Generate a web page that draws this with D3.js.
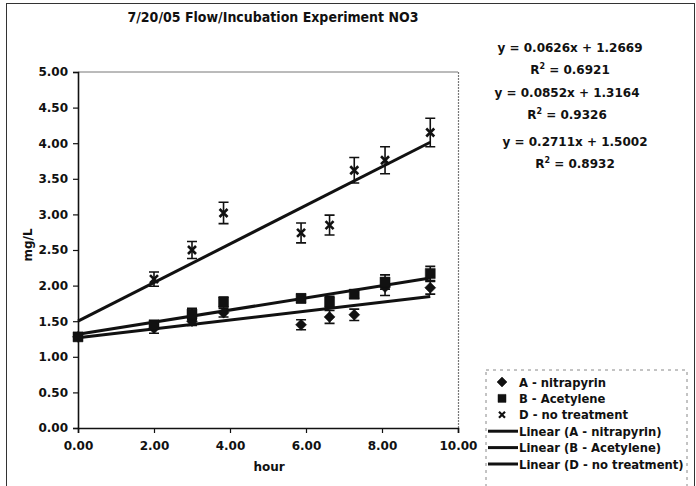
<!DOCTYPE html>
<html>
<head>
<meta charset="utf-8">
<script src="https://cdn.jsdelivr.net/npm/d3@7"></script>
<style>
  body { margin: 0; background: #fff; }
  svg { display: block; font-family: 'DejaVu Sans', Verdana, sans-serif; }
</style>
</head>
<body>
<div id="chart"></div>
<script>
// sample times (hour)
const hours = [0, 2.0, 3.0, 3.83, 5.87, 6.62, 7.27, 8.08, 9.27]

// NO3 mg/L per treatment, with error bar half-heights
const valsA = [1.28, 1.40, 1.50, 1.62, 1.45, 1.56, 1.59, 1.98, 1.97]
const errA = [0.04, 0.07, 0.06, 0.06, 0.07, 0.09, 0.08, 0.12, 0.09]
const valsB = [1.28, 1.45, 1.60, 1.77, 1.82, 1.77, 1.88, 2.05, 2.17]
const errB = [0.04, 0.05, 0.08, 0.07, 0.06, 0.08, 0.06, 0.10, 0.10]
const valsD = [1.28, 2.09, 2.50, 3.02, 2.74, 2.85, 3.62, 3.76, 4.15]
const errD = [0.04, 0.10, 0.12, 0.15, 0.14, 0.14, 0.18, 0.19, 0.20]

// trendline equations shown on the chart
const fits = [
  { name: 'A - nitrapyrin', slope: 0.0626, icpt: 1.2669, r2: '0.6921' },
  { name: 'B - Acetylene', slope: 0.0852, icpt: 1.3164, r2: '0.9326' },
  { name: 'D - no treatment', slope: 0.2711, icpt: 1.5002, r2: '0.8932' }
]

const yTicks = [0, 0.5, 1, 1.5, 2, 2.5, 3, 3.5, 4, 4.5, 5]
const xTicks = [0, 2, 4, 6, 8, 10]

const W = 696, H = 486
const ink = '#111'

const svg = d3.select('#chart').append('svg')
  .attr('width', W).attr('height', H)

// outer chart frame
svg.append('rect')
  .attr('x', 6.5).attr('y', 3.5)
  .attr('width', W - 8).attr('height', H - 3)
  .attr('fill', 'none').attr('stroke', '#333').attr('stroke-width', 1)

const x = d3.scaleLinear().domain([0, 10]).range([78, 458])
const y = d3.scaleLinear().domain([0, 5]).range([428, 72])

// plot area top / right border
svg.append('line')
  .attr('x1', x(0)).attr('x2', x(10)).attr('y1', y(5)).attr('y2', y(5))
  .attr('stroke', '#777').attr('stroke-width', 1)
svg.append('line')
  .attr('x1', x(10) + 0.5).attr('x2', x(10) + 0.5).attr('y1', y(5)).attr('y2', y(0))
  .attr('stroke', '#777').attr('stroke-width', 1.2).attr('stroke-dasharray', '2,1')

// axes
const yAxis = svg.append('g')
  .attr('transform', `translate(${x(0)},0)`)
  .call(d3.axisLeft(y).tickValues(yTicks).tickFormat(d3.format('.2f')).tickSize(5).tickPadding(5))
const xAxis = svg.append('g')
  .attr('transform', `translate(0,${y(0)})`)
  .call(d3.axisBottom(x).tickValues(xTicks).tickFormat(d3.format('.2f')).tickSize(5).tickPadding(8))

for (const ax of [yAxis, xAxis]) {
  ax.select('.domain').attr('stroke', ink).attr('stroke-width', 1.6)
  ax.selectAll('.tick line').attr('stroke', ink).attr('stroke-width', 1.2)
  ax.selectAll('.tick text')
    .attr('fill', ink)
    .style('font-size', '12px')
    .style('font-weight', 'bold')
    .style('font-family', "'DejaVu Sans', Verdana, sans-serif")
}

// axis titles
svg.append('text')
  .attr('x', 269).attr('y', 471)
  .attr('text-anchor', 'middle')
  .style('font-size', '12px').style('font-weight', 'bold')
  .attr('fill', ink)
  .text('hour')
svg.append('text')
  .attr('transform', 'translate(32,245) rotate(-90)')
  .attr('text-anchor', 'middle')
  .style('font-size', '12px').style('font-weight', 'bold')
  .attr('fill', ink)
  .text('mg/L')

// chart title
svg.append('text')
  .attr('x', 273).attr('y', 22)
  .attr('text-anchor', 'middle')
  .style('font-family', "'DejaVu Sans Condensed', 'DejaVu Sans', sans-serif")
  .style('font-size', '14px').style('font-weight', 'bold')
  .attr('fill', ink)
  .text('7/20/05 Flow/Incubation Experiment NO3')

// trendlines
const line = d3.line().x(d => x(d[0])).y(d => y(d[1]))
const xMax = d3.max(hours)
fits.forEach(f => {
  svg.append('path')
    .attr('d', line([[0, f.icpt], [xMax, f.icpt + f.slope * xMax]]))
    .attr('fill', 'none')
    .attr('stroke', ink)
    .attr('stroke-width', 3)
})

// marker shapes
function diamond(cx, cy, r) {
  return `M${cx},${cy - r}L${cx + r},${cy}L${cx},${cy + r}L${cx - r},${cy}Z`
}
function square(cx, cy, r) {
  return `M${cx - r},${cy - r}h${2 * r}v${2 * r}h${-2 * r}Z`
}
function cross(cx, cy, r) {
  return `M${cx - r},${cy - r}L${cx + r},${cy + r}M${cx + r},${cy - r}L${cx - r},${cy + r}`
}

const series = [
  { vals: valsA, err: errA, shape: 'diamond' },
  { vals: valsB, err: errB, shape: 'square' },
  { vals: valsD, err: errD, shape: 'cross' }
]

series.forEach(s => {
  const pts = hours.map((h, i) => ({ h, v: s.vals[i], e: s.err[i] }))
  const g = svg.append('g')
  // error bars
  g.selectAll('path.err')
    .data(pts)
    .join('path')
    .attr('class', 'err')
    .attr('d', d => {
      const cx = x(d.h), t = y(d.v + d.e), b = y(d.v - d.e)
      return `M${cx},${t}V${b}M${cx - 5},${t}H${cx + 5}M${cx - 5},${b}H${cx + 5}`
    })
    .attr('fill', 'none').attr('stroke', ink).attr('stroke-width', 1.6)
  // markers
  g.selectAll('path.mark')
    .data(pts)
    .join('path')
    .attr('class', 'mark')
    .attr('d', d => {
      const cx = x(d.h), cy = y(d.v)
      if (s.shape === 'diamond') return diamond(cx, cy, 5.5)
      if (s.shape === 'square') return square(cx, cy, 5)
      return cross(cx, cy, 4)
    })
    .attr('fill', s.shape === 'cross' ? 'none' : ink)
    .attr('stroke', ink)
    .attr('stroke-width', s.shape === 'cross' ? 2.6 : 0.5)
})

// equations
const eqPos = [[570, 52], [567, 97], [575, 146]]
fits.forEach((f, i) => {
  const [ex, ey] = eqPos[i]
  svg.append('text')
    .attr('x', ex).attr('y', ey)
    .attr('text-anchor', 'middle')
    .style('font-size', '12px').style('font-weight', 'bold')
    .attr('fill', ink)
    .text(`y = ${f.slope.toFixed(4)}x + ${f.icpt.toFixed(4)}`)
  const r = svg.append('text')
    .attr('x', ex).attr('y', ey + 22)
    .attr('text-anchor', 'middle')
    .style('font-size', '12px').style('font-weight', 'bold')
    .attr('fill', ink)
  r.append('tspan').text('R')
  r.append('tspan').attr('dy', -5).style('font-size', '8px').text('2')
  r.append('tspan').attr('dy', 5).text(` = ${f.r2}`)
})

// legend
const lg = svg.append('g')
lg.append('rect')
  .attr('x', 486).attr('y', 370).attr('width', 201).attr('height', 120)
  .attr('fill', '#fff').attr('stroke', '#888').attr('stroke-width', 1)
  .attr('stroke-dasharray', '3,4')

const legendItems = [
  { label: fits[0].name, shape: 'diamond' },
  { label: fits[1].name, shape: 'square' },
  { label: fits[2].name, shape: 'cross' },
  { label: `Linear (${fits[0].name})`, shape: 'line' },
  { label: `Linear (${fits[1].name})`, shape: 'line' },
  { label: `Linear (${fits[2].name})`, shape: 'line' }
]
legendItems.forEach((d, i) => {
  const cy = 382 + i * 16.4
  if (d.shape === 'line') {
    lg.append('line')
      .attr('x1', 488).attr('x2', 518).attr('y1', cy).attr('y2', cy)
      .attr('stroke', ink).attr('stroke-width', 3)
  } else {
    const p = d.shape === 'diamond' ? diamond(502, cy, 5)
      : d.shape === 'square' ? square(502, cy, 4)
      : cross(502, cy, 3)
    lg.append('path').attr('d', p)
      .attr('fill', d.shape === 'cross' ? 'none' : ink)
      .attr('stroke', ink)
      .attr('stroke-width', d.shape === 'cross' ? 2.2 : 0.5)
  }
  lg.append('text')
    .attr('x', 519).attr('y', cy + 4.5)
    .style('font-size', '11.6px').style('font-weight', 'bold')
    .attr('fill', ink)
    .text(d.label)
})
</script>
</body>
</html>
